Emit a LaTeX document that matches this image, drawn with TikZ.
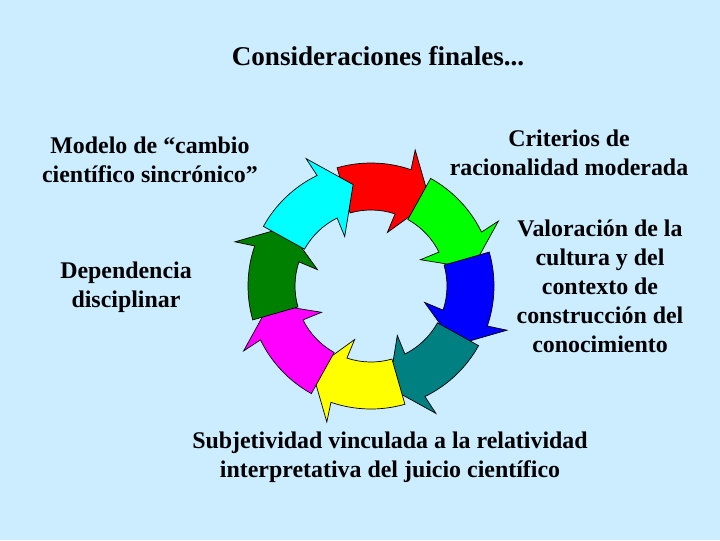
\documentclass[tikz,border=0pt]{standalone}
\usepackage{fontspec}
\setmainfont{Liberation Serif}
\usetikzlibrary{positioning}

\definecolor{slidebg}{RGB}{204,236,255}
\definecolor{arrowred}{RGB}{255,0,0}
\definecolor{arrowgreen}{RGB}{0,255,0}
\definecolor{arrowblue}{RGB}{0,0,255}
\definecolor{arrowteal}{RGB}{0,128,128}
\definecolor{arrowyellow}{RGB}{255,255,0}
\definecolor{arrowmagenta}{RGB}{255,0,255}
\definecolor{arrowdkgreen}{RGB}{0,128,0}
\definecolor{arrowcyan}{RGB}{0,255,255}

\tikzstyle{caption} = [align=center, inner sep=0pt, anchor=base, font=\fontsize{17}{20.6}\selectfont\bfseries]
\tikzstyle{heading} = [caption, font=\fontsize{19.3}{23}\selectfont\bfseries]
\tikzstyle{ringarrow} = [draw=black, line width=0.5pt, line join=miter]

% one bent arrow of the ring: #1 colour, #2 angle of its tip
\newcommand{\cyclearrow}[2]{%
  \filldraw[ringarrow, fill=#1]
    ({#2+51}:123) arc[start angle={#2+51}, end angle={#2+16}, radius=123]
    -- ({#2+17}:143) -- (#2:103) -- ({#2+18}:56) -- ({#2+16.5}:76)
    arc[start angle={#2+16.5}, end angle={#2+51}, radius=76] -- cycle;}

\begin{document}
\begin{tikzpicture}[x=0.025cm, y=-0.025cm]
  \fill[slidebg] (0,0) rectangle (720,540);

  \node[heading] (title) at (378,65) {Consideraciones finales...};

  % the cycle
  \begin{scope}[shift={(371,286)}, yscale=-1]
    \cyclearrow{arrowred}{55}
    \cyclearrow{arrowgreen}{10}
    \cyclearrow{arrowblue}{-35}
    \cyclearrow{arrowteal}{-80}
    \cyclearrow{arrowyellow}{-125}
    \cyclearrow{arrowmagenta}{-170}
    \cyclearrow{arrowdkgreen}{145}
    \cyclearrow{arrowcyan}{100}
  \end{scope}

  % captions, placed by the baseline of their last line
  \node[caption] (modelo) at (150,182) {Modelo de “cambio\\científico sincrónico”};
  \node[caption] (dependencia) at (126,307) {Dependencia\\disciplinar};
  \node[caption] (criterios) at (569,175) {Criterios de\\racionalidad moderada};
  \node[caption] (valoracion) at (600,352) {Valoración de la\\cultura y del\\contexto de\\construcción del\\conocimiento};
  \node[caption] (subjetividad) at (390,477) {Subjetividad vinculada a la relatividad\\interpretativa del juicio científico};
\end{tikzpicture}
\end{document}
